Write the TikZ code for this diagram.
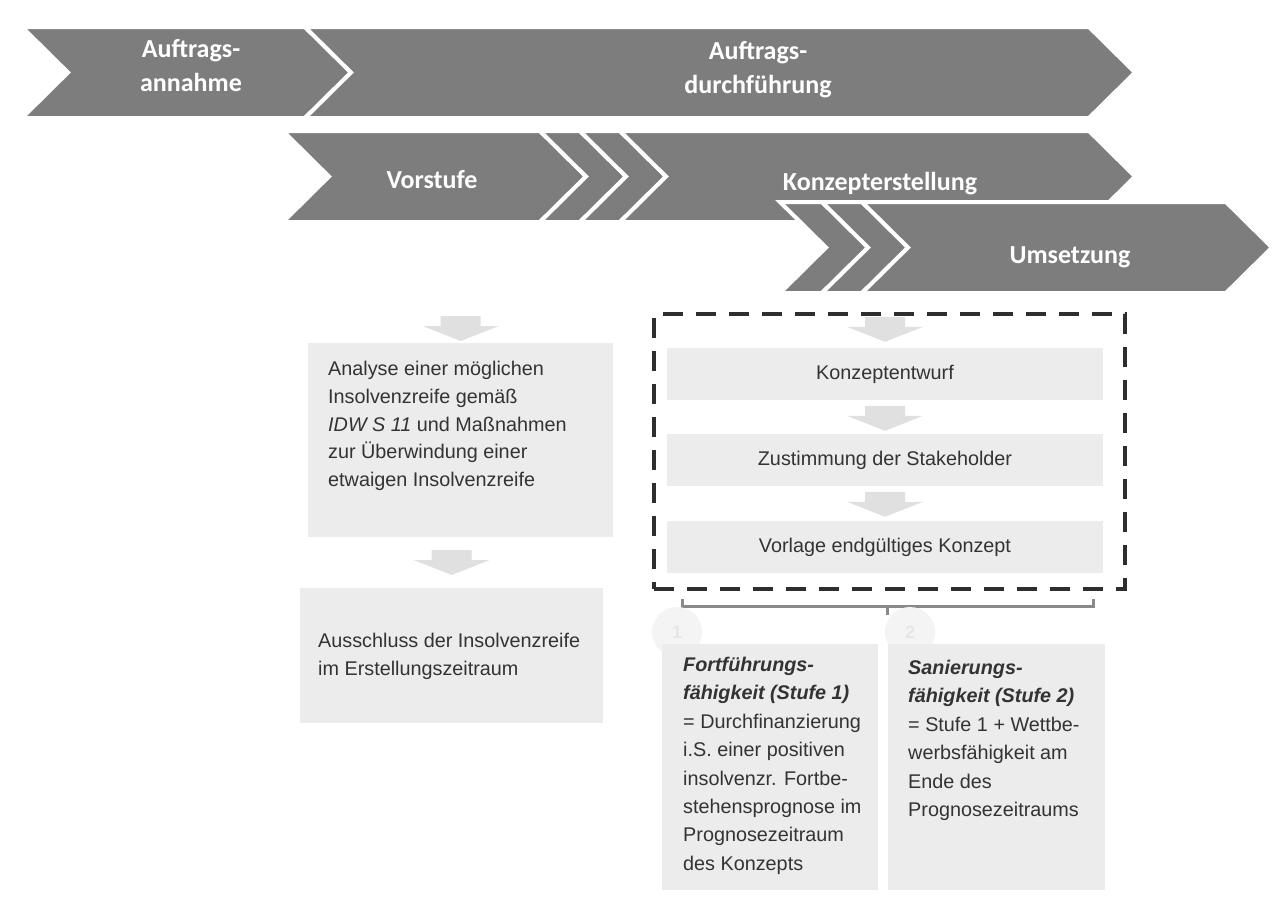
\documentclass[tikz,border=0pt]{standalone}
\usepackage{fontspec}
\setmainfont{Liberation Sans}
\newfontfamily\chevfont{Carlito}
\usepackage{tikz}
\usetikzlibrary{positioning}

\definecolor{chevgrey}{HTML}{7D7D7D}
\definecolor{boxgrey}{HTML}{ECECEC}
\definecolor{fadegrey}{HTML}{E0E0E0}
\definecolor{bracegrey}{HTML}{8A8A8A}
\definecolor{dashgrey}{HTML}{2E2E2E}
\definecolor{textgrey}{HTML}{333333}

\tikzset{
	chev/.style={fill=chevgrey, draw=white, line width=4pt, line join=miter},
	chevtext/.style={text=white, font=\chevfont\bfseries\fontsize{26}{34}\selectfont, align=center},
	greybox/.style={fill=boxgrey, draw=none, inner sep=0pt},
	boxtext/.style={text=textgrey, font=\fontsize{19.8}{27.8}\selectfont, align=left, anchor=north west, inner sep=0pt},
	stepbox/.style={fill=boxgrey, draw=none, minimum width=436pt, minimum height=52pt, text=textgrey, font=\fontsize{19.8}{24}\selectfont},
	dashbox/.style={draw=dashgrey, line width=3.5pt, dash pattern=on 20pt off 13pt, inner sep=0pt},
	brace/.style={draw=bracegrey, line width=3pt},
	pics/downarrow/.style={code={
		\fill[fadegrey] (-20,0) -- (20,0) -- (20,10) -- (38,10) -- (0,25) -- (-38,10) -- (-20,10) -- cycle;}}
}

\newcommand{\chevseg}[4]{%
	\draw[chev] (#1,#3) -- (#2,#3) -- ({#2+46},{(#3+#4)/2}) -- (#2,#4) -- (#1,#4) -- ({#1+46},{(#3+#4)/2}) -- cycle;}

\begin{document}
\begin{tikzpicture}[x=1pt,y=-1pt]
	\fill[white] (0,0) rectangle (1287,902);
	\useasboundingbox (0,0) rectangle (1287,902);

	\chevseg{22}{305}{27}{118}
	\chevseg{305}{1089}{27}{118}

	\chevseg{283}{540}{131}{222}
	\chevseg{540}{580}{131}{222}
	\chevseg{580}{620}{131}{222}
	\chevseg{620}{1089}{131}{222}

	\chevseg{780}{822}{202}{293}
	\chevseg{822}{862}{202}{293}
	\chevseg{862}{1226}{202}{293}

	\node[chevtext] (annahme) at (191,66) {Auftrags-\\annahme};
	\node[chevtext] (durchfuehrung) at (758,70) {Auftrags-\\durchführung};
	\node[chevtext] (vorstufe) at (432,180) {Vorstufe};
	\node[chevtext] (erstellung) at (880,184) {Konzepterstellung};
	\node[chevtext] (umsetzung) at (1070,257) {Umsetzung};

	\node[greybox, minimum width=305pt, minimum height=194pt, anchor=north west] (analyse) at (308,343) {};
	\node[boxtext, below right=18pt and 20pt of analyse.north west] (analysetext) {Analyse einer möglichen\\Insolvenzreife gemäß\\\textit{IDW S 11} und Maßnahmen\\zur Überwindung einer\\etwaigen Insolvenzreife};
	\node[greybox, minimum width=303pt, minimum height=135pt, anchor=north west] (ausschluss) at (300,588) {};
	\node[boxtext, below right=45pt and 18pt of ausschluss.north west] (ausschlusstext) {Ausschluss der Insolvenzreife\\im Erstellungszeitraum};

	\pic at ([yshift=27pt]analyse.north) {downarrow};
	\pic at ([yshift=38pt]ausschluss.north) {downarrow};

	\node[dashbox, minimum width=471pt, minimum height=275pt, anchor=north west] (stufen) at (652,312) {};
	\node[stepbox] (entwurf) at (885,374) {Konzeptentwurf};
	\node[stepbox] (zustimmung) at (885,460) {Zustimmung der Stakeholder};
	\node[stepbox] (vorlage) at (885,547) {Vorlage endgültiges Konzept};

	\pic at ([yshift=31pt]entwurf.north) {downarrow};
	\pic at ([yshift=28pt]zustimmung.north) {downarrow};
	\pic at ([yshift=29pt]vorlage.north) {downarrow};

	\coordinate (braceleft) at (682,599);
	\coordinate (braceright) at (1093,599);
	\coordinate (bracemid) at (887,606);
	\draw[brace] (braceleft) -- ++(0,7) -| (braceright);
	\draw[brace] (bracemid) -- ++(0,9);

	\node[circle, fill=fadegrey!35, minimum size=50pt, text=fadegrey!80, font=\bfseries\fontsize{18}{18}\selectfont] (eins) at (677,632) {1};
	\node[circle, fill=fadegrey!35, minimum size=50pt, text=fadegrey!80, font=\bfseries\fontsize{18}{18}\selectfont] (zwei) at (910,632) {2};

	\node[greybox, minimum width=216pt, minimum height=246pt, anchor=north west] (fortfuehrung) at (662,644) {};
	\node[boxtext, font=\fontsize{19.8}{28.4}\selectfont, below right=13pt and 21pt of fortfuehrung.north west] (fortfuehrungtext) {\textbf{\textit{Fortführungs-}}\\\textbf{\textit{fähigkeit (Stufe 1)}}\\= Durchfinanzierung\\i.S. einer positiven\\insolvenzr. Fortbe-\\stehensprognose im\\Prognosezeitraum\\des Konzepts};
	\node[greybox, minimum width=217pt, minimum height=246pt, anchor=north west] (sanierung) at (888,644) {};
	\node[boxtext, font=\fontsize{19.8}{28.4}\selectfont, below right=16pt and 20pt of sanierung.north west] (sanierungtext) {\textbf{\textit{Sanierungs-}}\\\textbf{\textit{fähigkeit (Stufe 2)}}\\= Stufe 1 + Wettbe-\\werbsfähigkeit am\\Ende des\\Prognosezeitraums};
\end{tikzpicture}
\end{document}
